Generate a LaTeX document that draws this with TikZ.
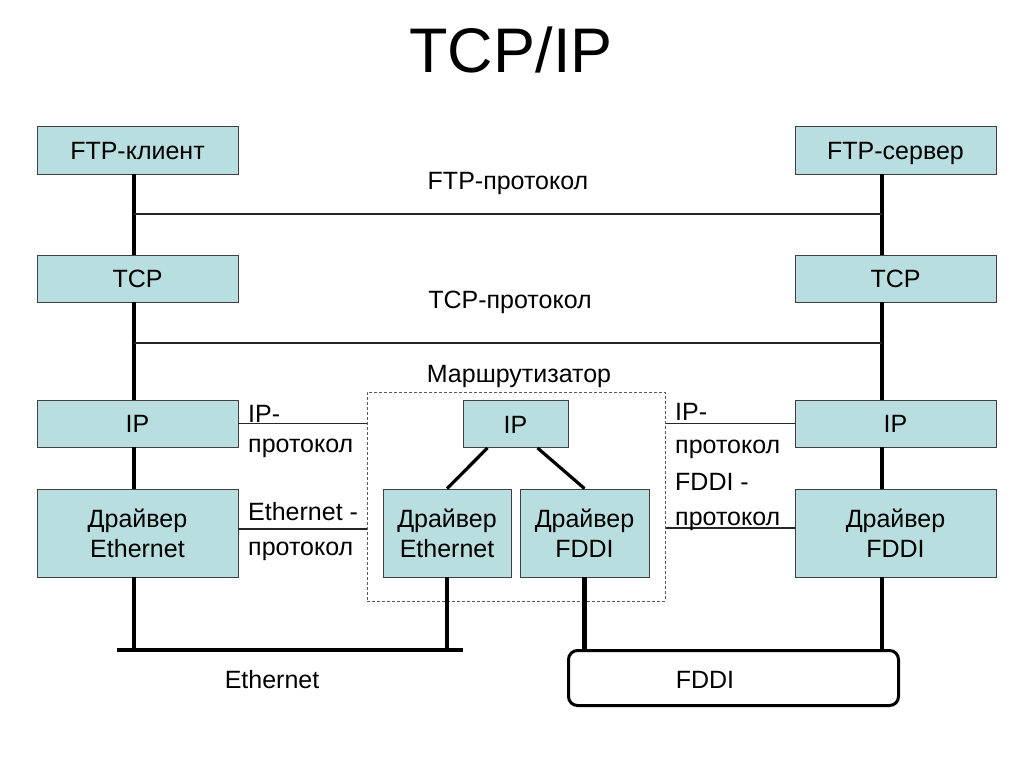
\documentclass[tikz,border=0pt]{standalone}
\usepackage{fontspec}
\setmainfont{Liberation Sans}
\definecolor{boxfill}{RGB}{184,222,224}
\definecolor{boxline}{RGB}{64,64,64}
\begin{document}
\begin{tikzpicture}[x=1pt,y=-1pt,
  box/.style={draw=boxline, line width=0.9pt, fill=boxfill, inner sep=0pt, align=center,
              font=\fontsize{25}{30}\selectfont},
  small/.style={box, minimum width=201pt, minimum height=47pt, text height=18pt, text depth=0pt},
  big/.style={box, minimum width=201pt, minimum height=88pt},
  lbl/.style={inner sep=0pt, font=\fontsize{25}{30}\selectfont},
  bus/.style={line width=4.5pt},
  proto/.style={line width=1.3pt, draw=black!85},
  link/.style={line width=3.2pt}]
\useasboundingbox[fill=white] (0,0) rectangle (1024,768);

% title
\node[lbl, anchor=base, font=\fontsize{63}{70}\selectfont] (title) at (511,72) {TCP/IP};

% left stack
\node[small, minimum height=48pt] (ftpc) at (137.5,150) {FTP-клиент};
\node[small] (tcpl) at (137.5,278.5) {TCP};
\node[small] (ipl)  at (137.5,423.5) {IP};
\node[big]   (drvl) at (137.5,533) {Драйвер\\Ethernet};

% right stack
\node[small, minimum height=48pt] (ftps) at (895.5,150) {FTP-сервер};
\node[small] (tcpr) at (895.5,278.5) {TCP};
\node[small] (ipr)  at (895.5,423.5) {IP};
\node[big]   (drvr) at (895.5,533) {Драйвер\\FDDI};

% router
\node[draw=black!65, line width=1pt, dash pattern=on 3pt off 2pt,
      minimum width=298pt, minimum height=209pt, inner sep=0pt] (router) at (516,496.5) {};
\node[box, minimum width=105pt, minimum height=47pt, text height=18pt, text depth=0pt] (rip) at (515.5,424) {IP};
\node[box, minimum width=128pt, minimum height=88pt] (rde) at (447,533) {Драйвер\\Ethernet};
\node[box, minimum width=129pt, minimum height=88pt] (rdf) at (584.5,533) {Драйвер\\FDDI};

% FDDI ring
\node[draw, line width=3pt, rounded corners=9pt, minimum width=330pt, minimum height=55pt,
      inner sep=0pt] (fddi) at (733.5,678) {};
\node[lbl, anchor=base] (fddilbl) at (705,688) {FDDI};

% Ethernet bus
\coordinate (ethA) at (117,650);
\coordinate (ethB) at (463,650);
\draw[bus] (ethA) -- (ethB);
\node[lbl, anchor=base] (ethlbl) at (272,688) {Ethernet};

% stack axes
\coordinate (ll) at (134,0);
\coordinate (rl) at (882,0);

% left vertical connections
\draw[bus] (ftpc.south -| ll) -- (tcpl.north -| ll);
\draw[bus] (tcpl.south -| ll) -- (ipl.north -| ll);
\draw[bus] (ipl.south -| ll) -- (drvl.north -| ll);
\draw[bus] (drvl.south -| ll) -- (ethA -| ll);

% right vertical connections
\draw[bus] (ftps.south -| rl) -- (tcpr.north -| rl);
\draw[bus] (tcpr.south -| rl) -- (ipr.north -| rl);
\draw[bus] (ipr.south -| rl) -- (drvr.north -| rl);
\draw[bus] (drvr.south -| rl) -- (fddi.north -| rl);

% router internals
\draw[link] ([xshift=-28pt]rip.south) -- (rde.north);
\draw[link] ([xshift=22pt]rip.south) -- (rdf.north);
\draw[bus] (rde.south) -- (rde.south |- ethA);
\draw[bus] (rdf.south) -- (rdf.south |- fddi.north);

% protocol lines
\coordinate (ftpA) at (134,214);
\coordinate (ftpB) at (882,214);
\draw[proto] (ftpA) -- (ftpB);
\node[lbl, anchor=base] (ftpp) at (508,189) {FTP-протокол};

\coordinate (tcpA) at (134,343);
\coordinate (tcpB) at (882,343);
\draw[proto] (tcpA) -- (tcpB);
\node[lbl, anchor=base] (tcpp) at (510,308) {TCP-протокол};

\node[lbl, anchor=base] (rtr) at (519,382) {Маршрутизатор};

\draw[proto] (ipl.east) -- (ipl.east -| router.west);
\draw[proto] (ipr.west) -- (ipr.west -| router.east);
\draw[proto] ([yshift=4pt]drvl.east) -- ([yshift=4pt]drvl.east -| router.west);
\draw[proto] ([yshift=5pt]drvr.west) -- ([yshift=5pt]drvr.west -| router.east);

\node[lbl, anchor=base west] (ipl1) at (248,422) {IP-};
\node[lbl, anchor=base west] (ipl2) at (248,452) {протокол};
\node[lbl, anchor=base west] (etl1) at (248,520) {Ethernet -};
\node[lbl, anchor=base west] (etl2) at (248,555) {протокол};
\node[lbl, anchor=base west] (ipr1) at (675,420) {IP-};
\node[lbl, anchor=base west] (ipr2) at (675,453) {протокол};
\node[lbl, anchor=base west] (fdr1) at (675,490) {FDDI -};
\node[lbl, anchor=base west] (fdr2) at (675,525) {протокол};
\end{tikzpicture}
\end{document}
